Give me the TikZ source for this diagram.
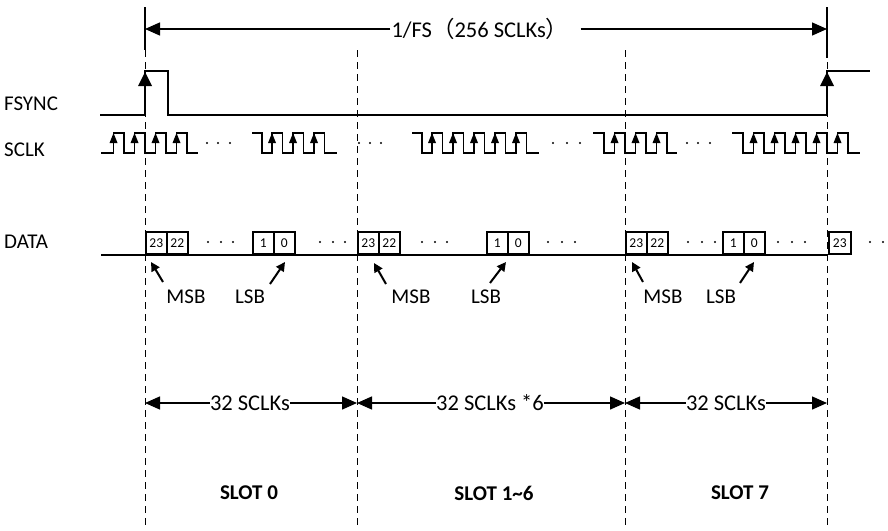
\documentclass[tikz,border=0pt]{standalone}
\usepackage{fontspec}
\setmainfont{Carlito}
\newfontfamily\cjkfont{Noto Sans CJK SC}
\usetikzlibrary{arrows.meta}
\begin{document}
\begin{tikzpicture}[x=1pt,y=-1pt,
  wave/.style={line width=1.5pt, line join=miter},
  guide/.style={line width=0.9pt, dash pattern=on 7pt off 5pt},
  lbl/.style={font=\fontsize{21}{25}\selectfont, inner sep=0pt},
  biglbl/.style={font=\fontsize{22.5}{27}\selectfont, inner sep=0pt},
  slotlbl/.style={font=\bfseries\fontsize{21}{25}\selectfont, inner sep=0pt},
  bitbox/.style={draw, line width=1.6pt, minimum width=21pt, minimum height=22pt, inner sep=0pt, anchor=south west, font=\fontsize{13.5}{15}\selectfont},
  dimarrow/.style={line width=1.4pt, -{Triangle[length=15pt,width=13pt]}},
  ptr/.style={line width=2pt, -{Triangle[length=9pt,width=9pt]}},
  dot/.style={circle, fill=black, inner sep=0pt, minimum size=2.4pt}
]
\useasboundingbox (0,0) rectangle (888,530);

% slot boundary guides
\foreach \x/\n in {145/a,357/b,625/c,827/d}{
  \coordinate (top\n) at (\x,50);
  \coordinate (bot\n) at (\x,528);
  \draw[guide] (top\n) -- (bot\n);
}
\coordinate (tickA1) at (145,7); \coordinate (tickA2) at (145,50);
\coordinate (tickD1) at (827,7); \coordinate (tickD2) at (827,58);
\draw[line width=1.4pt] (tickA1) -- (tickA2);
\draw[line width=1.4pt] (tickD1) -- (tickD2);

% 1/FS dimension
\node[biglbl] (fs) at (480,29) {1/FS{\cjkfont （}256 SCLKs{\cjkfont ）}};
\coordinate (fsL) at (145,29);
\coordinate (fsR) at (827,29);
\draw[dimarrow] ([xshift=-1pt]fs.west) -- (fsL);
\draw[dimarrow] ([xshift=12pt]fs.east) -- (fsR);

% left labels
\node[lbl, anchor=west] (fsync) at (4,104) {FSYNC};
\node[lbl, anchor=west] (sclk) at (4,150) {SCLK};
\node[lbl, anchor=west] (data) at (4,242) {DATA};

% FSYNC waveform
\draw[wave] (100,115) -| (145,71) -| (168,115) -| (827,71) -- (870,71);
\foreach \r in {145,827}{
  \fill (\r-7,86) -- (\r+7,86) -- (\r,72) -- cycle;
}

% SCLK waveform
\draw[wave] (101,153) -| (113.5,133) -| (124,153) -| (134.5,133) -| (145,153) -| (155.5,133) -| (166,153) -| (176.5,133) -| (187,153) -- (198,153);
\draw[wave] (252,133) -| (262,153) -| (272,133) -| (282.5,153) -| (293,133) -| (303.5,153) -| (314,133) -| (324.5,153) -- (337,153);
\draw[wave] (412,133) -| (422,153) -| (432,133) -| (442.5,153) -| (453,133) -| (463.5,153) -| (474,133) -| (484.5,153) -| (495,133) -| (505.5,153) -| (516,133) -| (526.5,153) -- (539,153);
\draw[wave] (593,133) -| (604,153) -| (614.5,133) -| (625,153) -| (635.5,133) -| (646,153) -| (656.5,133) -| (667,153) -- (677,153);
\draw[wave] (732,133) -| (743,153) -| (753.5,133) -| (764,153) -| (774.5,133) -| (785,153) -| (795.5,133) -| (806,153) -| (816.5,133) -| (827,153) -| (837.5,133) -| (848,153) -- (860,153);
\foreach \r in {113.5,134.5,155.5,176.5,272,293,314,432,453,474,495,516,614.5,635.5,656.5,753.5,774.5,795.5,816.5,837.5}{
  \fill (\r-4,143) -- (\r+4,143) -- (\r,133) -- cycle;
}
\foreach \x in {207,218,230,359,370,381,553,567,580,687,698,710}{
  \node[dot] at (\x,143) {};
}

% DATA line and bit boxes
\coordinate (dataL) at (101,255);
\coordinate (dataR) at (828,255);
\draw[wave] (dataL) -- (dataR);
\node[bitbox] (s0b23) at (145,255) {23};
\node[bitbox] (s0b22) at (166,255) {22};
\node[bitbox] (s0b1) at (252,255) {1};
\node[bitbox] (s0b0) at (273,255) {0};
\node[bitbox] (s1b23) at (357,255) {23};
\node[bitbox] (s1b22) at (378,255) {22};
\node[bitbox] (s1b1) at (486,255) {1};
\node[bitbox] (s1b0) at (507,255) {0};
\node[bitbox] (s7b23) at (625,255) {23};
\node[bitbox] (s7b22) at (646,255) {22};
\node[bitbox] (s7b1) at (722,255) {1};
\node[bitbox] (s7b0) at (743,255) {0};
\node[bitbox, minimum width=22pt] (nb23) at (828,255) {23};
\foreach \x in {208,221,233,320,333,345,422,435,447,548,562,575,688,702,715,778,792,805,870,883}{
  \node[dot] at (\x,242) {};
}

% MSB / LSB pointers
\node[lbl] (msb0) at (186,297) {MSB};
\node[lbl] (lsb0) at (250,297) {LSB};
\node[lbl] (msb1) at (411,297) {MSB};
\node[lbl] (lsb1) at (486,297) {LSB};
\node[lbl] (msb7) at (663,297) {MSB};
\node[lbl] (lsb7) at (721,297) {LSB};
\coordinate (m0t) at (163,282); \coordinate (m0h) at (151,262);
\coordinate (l0t) at (270,284); \coordinate (l0h) at (285,262);
\coordinate (m1t) at (386,284); \coordinate (m1h) at (374,263);
\coordinate (l1t) at (490,283); \coordinate (l1h) at (506,262);
\coordinate (m7t) at (643,282); \coordinate (m7h) at (632,262);
\coordinate (l7t) at (740,283); \coordinate (l7h) at (754,262);
\foreach \a in {m0,l0,m1,l1,m7,l7}{
  \draw[ptr] (\a t) -- (\a h);
}

% 32 SCLKs dimensions
\coordinate (da) at (145,403);
\coordinate (db) at (357,403);
\coordinate (dc) at (625,403);
\coordinate (dd) at (827,403);
\node[biglbl] (dim0) at (250,403) {32 SCLKs};
\node[biglbl] (dim1) at (490,403) {32 SCLKs *6};
\node[biglbl] (dim7) at (726,403) {32 SCLKs};
\draw[dimarrow] (dim0.west) -- (da);
\draw[dimarrow] (dim0.east) -- (db);
\draw[dimarrow] (dim1.west) -- (db);
\draw[dimarrow] (dim1.east) -- (dc);
\draw[dimarrow] (dim7.west) -- (dc);
\draw[dimarrow] (dim7.east) -- (dd);

% slot labels
\node[slotlbl] (slot0) at (249,493) {SLOT 0};
\node[slotlbl] (slot16) at (494,493) {SLOT 1\textasciitilde 6};
\node[slotlbl] (slot7) at (740,493) {SLOT 7};
\end{tikzpicture}
\end{document}
